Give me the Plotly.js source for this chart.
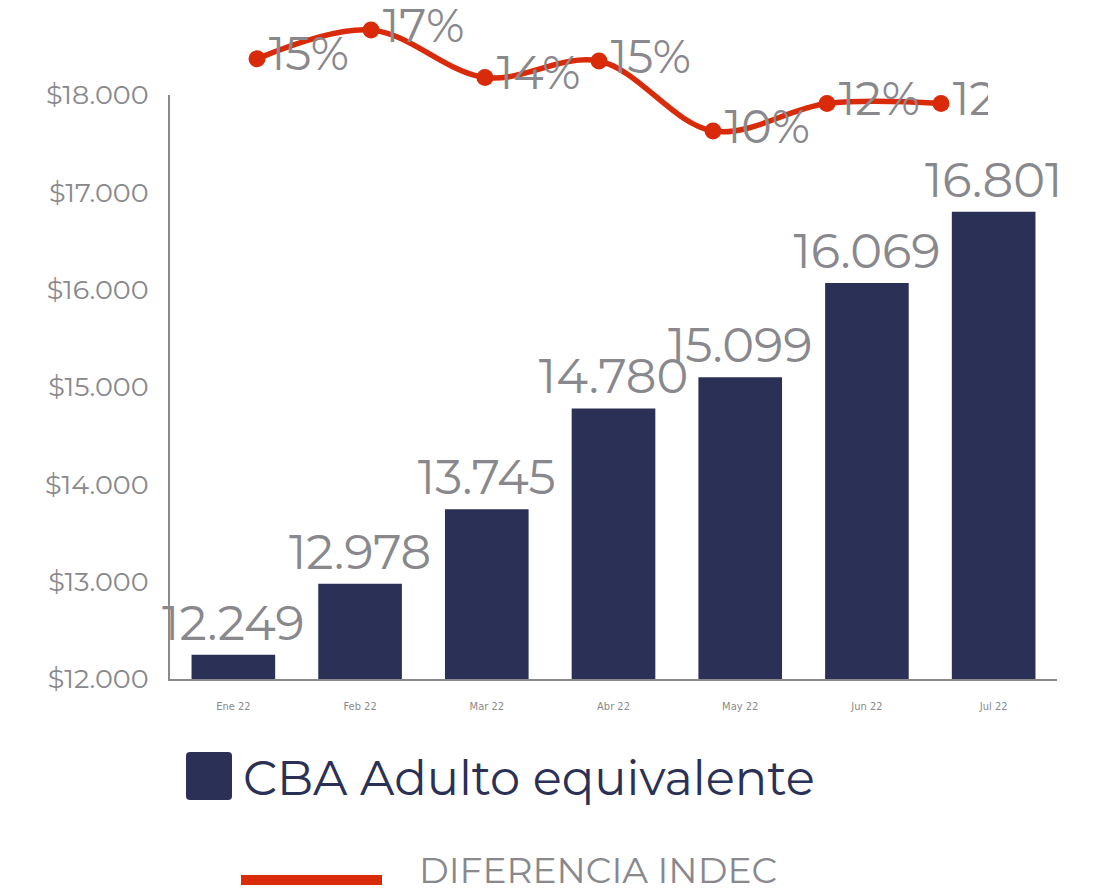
<!DOCTYPE html>
<html>
<head>
<meta charset="utf-8">
<script src="https://cdn.plot.ly/plotly-3.0.1.min.js"></script>
<style>html,body{margin:0;padding:0;background:#fff;}#chart{width:1106px;height:890px;}</style>
</head>
<body>
<div id="chart"></div>
<script>
const months = ["Ene 22", "Feb 22", "Mar 22", "Abr 22", "May 22", "Jun 22", "Jul 22"];
const cbaValues = [12249, 12978, 13745, 14780, 15099, 16069, 16801];
const diffValues = [15.0, 17.0, 13.7, 14.85, 10.0, 11.9, 11.9];
const yTicks = [12000, 13000, 14000, 15000, 16000, 17000, 18000];
const yTickText = ["$12.000", "$13.000", "$14.000", "$15.000", "$16.000", "$17.000", "$18.000"];
const seriesNames = ["CBA Adulto equivalente", "DIFERENCIA INDEC"];

const W = 1106, H = 890;
const FONT = "Montserrat, 'Open Sans', sans-serif";
const GRAY = "#88888d";
const NAVY = "#2b3156";
const RED = "#d92b0a";

const px = v => v / W;
const py = v => 1 - v / H;

const barTrace = {
  type: "bar",
  name: seriesNames[0],
  x: months,
  y: cbaValues,
  marker: {color: NAVY},
  width: 0.66,
  texttemplate: "%{y:,.0f}",
  textposition: "outside",
  constraintext: "none",
  cliponaxis: false,
  textfont: {family: FONT, size: 48, color: GRAY},
  xaxis: "x", yaxis: "y",
  showlegend: false,
  hoverinfo: "x+y"
};

const lineTrace = {
  type: "scatter",
  mode: "lines+markers+text",
  name: seriesNames[1],
  x: months.map((m, i) => i),
  y: diffValues,
  line: {color: RED, width: 5.5, shape: "spline", smoothing: 1},
  marker: {color: RED, size: 17},
  texttemplate: "%{y:.0f}%",
  textposition: "middle right",
  textfont: {family: FONT, size: 46, color: GRAY},
  cliponaxis: true,
  xaxis: "x2", yaxis: "y2",
  showlegend: false
};

// line subplot geometry
const lx0 = 200, lx1 = 988, step = 114, firstPt = 257;
const r0 = -(firstPt - lx0) / step;
const r1 = r0 + (lx1 - lx0) / step;
const ly1 = 679;
const pxPerPct = (131 - 30) / 7;
const yr1 = 17 + 30 / pxPerPct;
const yr0 = yr1 - ly1 / pxPerPct;

const layout = {
  width: W, height: H,
  margin: {l: 0, r: 0, t: 0, b: 0},
  paper_bgcolor: "#fff",
  plot_bgcolor: "rgba(0,0,0,0)",
  separators: ",.",
  font: {family: FONT, color: GRAY},
  xaxis: {
    domain: [px(170), px(1057)],
    range: [-0.5, 6.5],
    showline: true, linecolor: "#8a8a8a", linewidth: 2,
    showgrid: false, zeroline: false,
    ticks: "", ticklen: 0,
    tickfont: {family: "'DejaVu Sans Condensed', 'Liberation Sans Narrow', sans-serif", size: 11, color: "#8a8a8a"},
    ticklabelstandoff: 16,
    anchor: "y"
  },
  yaxis: {
    domain: [py(679), py(95)],
    range: [12000, 18000],
    tickvals: yTicks,
    ticktext: yTickText,
    showline: true, linecolor: "#8a8a8a", linewidth: 2,
    showgrid: false, zeroline: false,
    ticks: "",
    ticklabelstandoff: 14,
    tickfont: {family: FONT, size: 27, color: GRAY},
    anchor: "x"
  },
  xaxis2: {
    domain: [px(lx0), px(lx1)],
    range: [r0, r1],
    visible: false,
    anchor: "y2"
  },
  yaxis2: {
    domain: [py(ly1), 1],
    range: [yr0, yr1],
    visible: false,
    anchor: "x2"
  },
  shapes: [
    {type: "path", xref: "paper", yref: "paper",
     path: `M ${px(190)} ${py(752)} L ${px(228)} ${py(752)} Q ${px(232)} ${py(752)} ${px(232)} ${py(756)} L ${px(232)} ${py(796)} Q ${px(232)} ${py(800)} ${px(228)} ${py(800)} L ${px(190)} ${py(800)} Q ${px(186)} ${py(800)} ${px(186)} ${py(796)} L ${px(186)} ${py(756)} Q ${px(186)} ${py(752)} ${px(190)} ${py(752)} Z`,
     fillcolor: NAVY, line: {width: 0}},
    {type: "rect", xref: "paper", yref: "paper",
     x0: px(241), x1: px(382), y0: py(885), y1: py(875),
     fillcolor: RED, line: {width: 0}}
  ],
  annotations: [
    {xref: "paper", yref: "paper", x: px(241), y: py(778), xanchor: "left", yanchor: "middle",
     text: seriesNames[0], showarrow: false, font: {family: FONT, size: 48, color: NAVY}},
    {xref: "paper", yref: "paper", x: px(417), y: py(870), xanchor: "left", yanchor: "middle",
     text: seriesNames[1], showarrow: false, font: {family: FONT, size: 36, color: GRAY}}
  ]
};

Plotly.newPlot("chart", [barTrace, lineTrace], layout, {displayModeBar: false, staticPlot: true});
</script>
</body>
</html>
